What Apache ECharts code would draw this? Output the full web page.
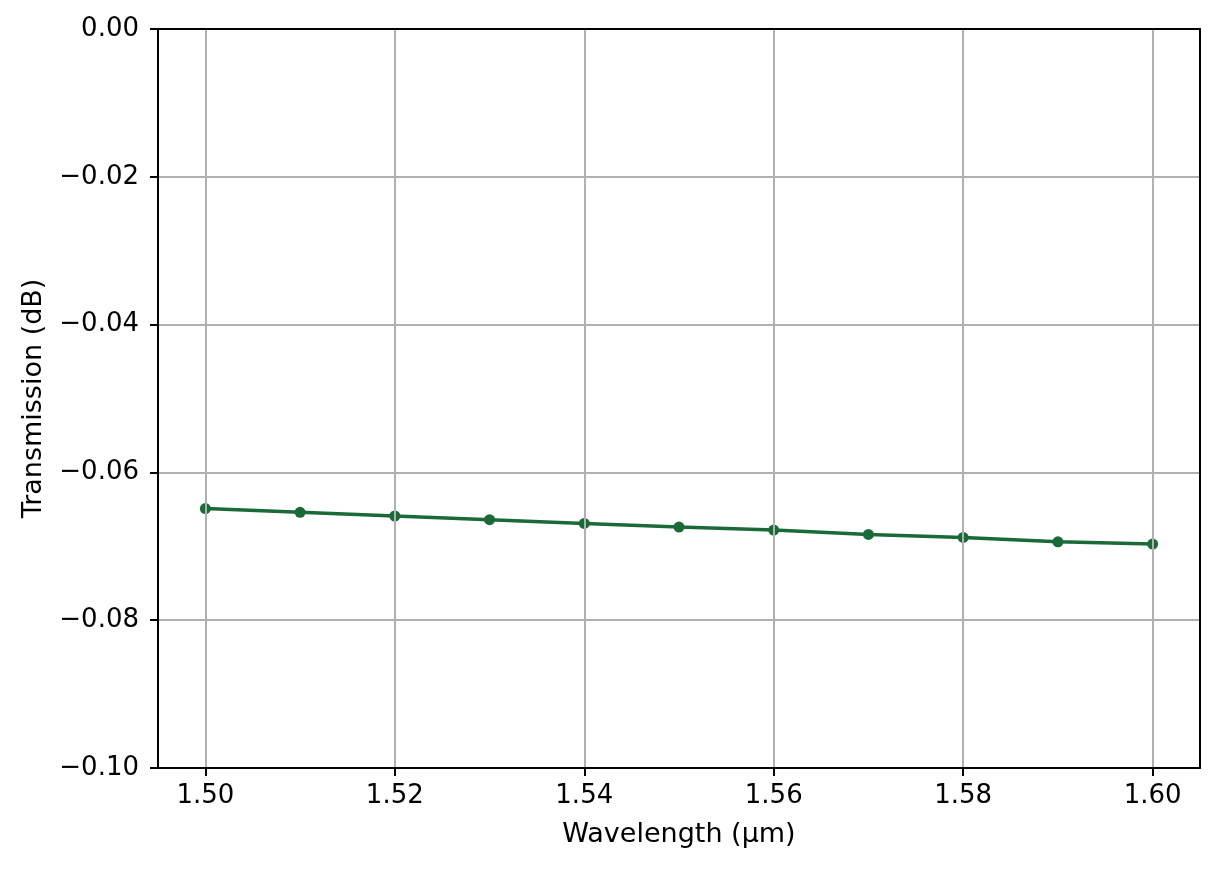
<!DOCTYPE html>
<html>
<head>
<meta charset="utf-8">
<script src="https://cdn.jsdelivr.net/npm/echarts@6/dist/echarts.min.js"></script>
<style>html,body{margin:0;padding:0;background:#fff}#c{width:1219px;height:871px}</style>
</head>
<body>
<div id="c"></div>
<script>
const wavelengths = [1.50, 1.51, 1.52, 1.53, 1.54, 1.55, 1.56, 1.57, 1.58, 1.59, 1.60];
const transmission = [-0.0649, -0.0654, -0.0659, -0.0664, -0.0669, -0.0674, -0.0678, -0.0684, -0.0688, -0.0694, -0.0697];
const xTicks = [1.50, 1.52, 1.54, 1.56, 1.58, 1.60];
const xTitle = 'Wavelength (µm)';
const yTitle = 'Transmission (dB)';

const chart = echarts.init(document.getElementById('c'), null, {renderer: 'canvas'});
const font = 'DejaVu Sans';
const fmtY = v => (v < 0 ? '\u2212' : '') + Math.abs(v).toFixed(2);
const frameAxis = {
  axisLine: {show: true, onZero: false, lineStyle: {color: '#000', width: 2}},
  axisTick: {show: false}, axisLabel: {show: false}, splitLine: {show: false}, z: 10
};
chart.setOption({
  animation: false,
  backgroundColor: '#fff',
  grid: {left: 158, right: 19, top: 29, bottom: 103},
  xAxis: [{
    type: 'value', min: 1.495, max: 1.605,
    name: xTitle, nameLocation: 'middle', nameGap: 53,
    nameTextStyle: {fontFamily: font, fontSize: 27, color: '#000'},
    axisLine: {show: true, onZero: false, lineStyle: {color: '#000', width: 2}},
    axisTick: {show: true, customValues: xTicks, length: 8, lineStyle: {color: '#000', width: 2}},
    axisLabel: {customValues: xTicks, margin: 15, fontFamily: font, fontSize: 26, color: '#000', formatter: v => v.toFixed(2)},
    splitLine: {show: true, lineStyle: {color: '#b0b0b0', width: 2}},
    z: 10
  }, Object.assign({type: 'value', position: 'top', min: 1.495, max: 1.605}, frameAxis)],
  yAxis: [{
    type: 'value', min: -0.1, max: 0, interval: 0.02,
    name: yTitle, nameLocation: 'middle', nameGap: 111, nameRotate: 90,
    nameTextStyle: {fontFamily: font, fontSize: 27, color: '#000'},
    axisLine: {show: true, onZero: false, lineStyle: {color: '#000', width: 2}},
    axisTick: {show: true, length: 8, lineStyle: {color: '#000', width: 2}},
    axisLabel: {margin: 19, fontFamily: font, fontSize: 26, color: '#000', formatter: fmtY},
    splitLine: {show: true, lineStyle: {color: '#b0b0b0', width: 2}},
    z: 10
  }, Object.assign({type: 'value', position: 'right', min: -0.1, max: 0}, frameAxis)],
  series: [{
    type: 'line',
    data: wavelengths.map((w, i) => [w, transmission[i]]),
    symbol: 'circle', symbolSize: 11,
    itemStyle: {color: '#1a6a37'},
    lineStyle: {color: '#1a6a37', width: 3.5}
  }]
});
</script>
</body>
</html>
